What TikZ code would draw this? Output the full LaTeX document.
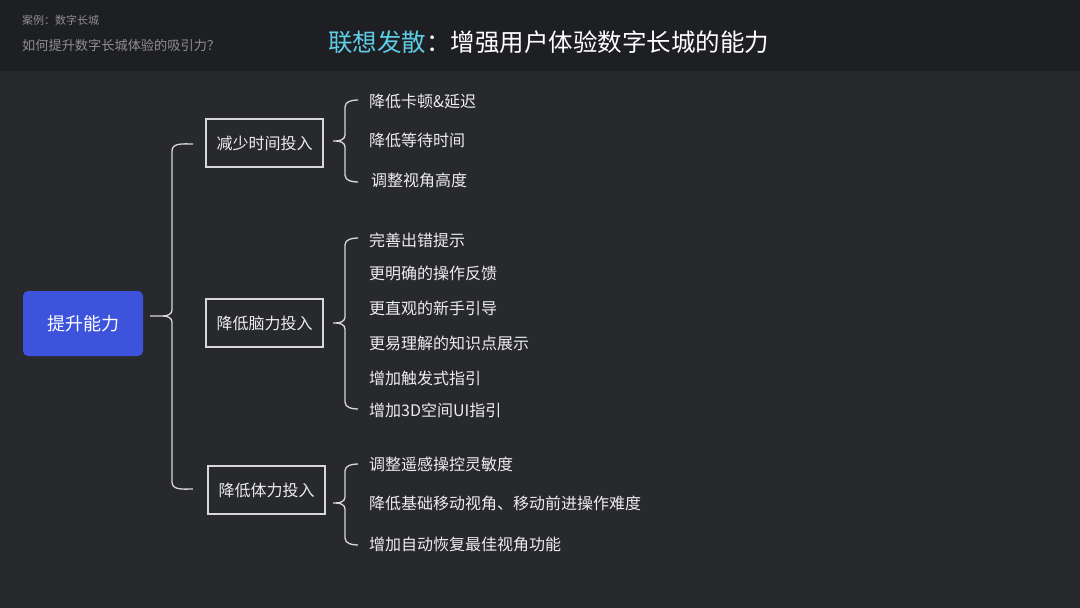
\documentclass[tikz,border=0pt]{standalone}
\usepackage{fontspec}
\setmainfont{Noto Sans CJK SC}
\definecolor{bodybg}{HTML}{28292D}
\definecolor{headbg}{HTML}{1E1F23}
\definecolor{rootblue}{HTML}{3D53DC}
\definecolor{titleblue}{HTML}{5FCDE6}
\definecolor{linegray}{HTML}{D8D8D8}
\definecolor{headgray}{HTML}{8E8E8E}
\definecolor{itemwhite}{HTML}{EDEDED}
\tikzset{
  rootbox/.style={fill=rootblue, rounded corners=5pt, minimum width=120pt, minimum height=65pt, text=white, font=\fontsize{18}{20}\selectfont, inner sep=0pt},
  midbox/.style={draw=linegray, line width=1.4pt, minimum width=117pt, minimum height=48pt, text=itemwhite, font=\fontsize{16}{18}\selectfont, inner sep=0pt},
  item/.style={anchor=west, text=itemwhite, font=\fontsize{16}{18}\selectfont, inner sep=0pt},
  bracel/.style={draw=linegray, line width=1.3pt},
}
% #1 tip x, #2 tip y, #3 vertical x, #4 top y, #5 bottom y, #6 arm end x
\newcommand\mybrace[6]{%
  \draw[bracel] (#6,#4) to[out=180,in=90] (#3,#4+7) -- (#3,#2-6) to[out=-90,in=0] (#3-9,#2) -- (#1,#2);
  \draw[bracel] (#3-9,#2) to[out=0,in=90] (#3,#2+6) -- (#3,#5-7) to[out=-90,in=180] (#6,#5);
}
\begin{document}
\begin{tikzpicture}[x=1pt,y=-1pt]
\useasboundingbox (0,0) rectangle (1080,608);
\fill[bodybg] (0,0) rectangle (1080,608);
\fill[headbg] (0,0) rectangle (1080,71);
% header texts
\node[anchor=west, text=headgray, font=\fontsize{11}{12}\selectfont, inner sep=0pt] (case) at (22,20) {案例：数字长城};
\node[anchor=west, text=headgray, font=\fontsize{13.2}{15}\selectfont, inner sep=0pt] (question) at (22,45) {如何提升数字长城体验的吸引力？};
\node[anchor=west, font=\fontsize{24.5}{27}\selectfont, inner sep=0pt] (title) at (328,42) {\textcolor{titleblue}{联想发散}\textcolor{white}{：增强用户体验数字长城的能力}};
% root
\node[rootbox] (root) at (83,323.5) {提升能力};
% level 1 boxes
\node[midbox] (b1) at (264.5,143) {减少时间投入};
\node[midbox] (b2) at (264.5,323) {降低脑力投入};
\node[midbox] (b3) at (266.5,490) {降低体力投入};
% root brace
\mybrace{150}{316}{172}{144}{489}{193}
% sub braces
\mybrace{333}{141}{345}{100}{182}{358}
\mybrace{333}{323}{345}{238}{409}{358}
\mybrace{333}{503}{345}{464}{545}{358}
% items group 1
\node[item] (i11) at (369,101) {降低卡顿\&延迟};
\node[item] (i12) at (369,140) {降低等待时间};
\node[item] (i13) at (371,180) {调整视角高度};
% items group 2
\node[item] (i21) at (369,240) {完善出错提示};
\node[item] (i22) at (369,273) {更明确的操作反馈};
\node[item] (i23) at (369,308) {更直观的新手引导};
\node[item] (i24) at (369,343) {更易理解的知识点展示};
\node[item] (i25) at (369,378) {增加触发式指引};
\node[item] (i26) at (369,410) {增加3D空间UI指引};
% items group 3
\node[item] (i31) at (369,464) {调整遥感操控灵敏度};
\node[item] (i32) at (369,503) {降低基础移动视角、移动前进操作难度};
\node[item] (i33) at (369,544) {增加自动恢复最佳视角功能};
\end{tikzpicture}
\end{document}
